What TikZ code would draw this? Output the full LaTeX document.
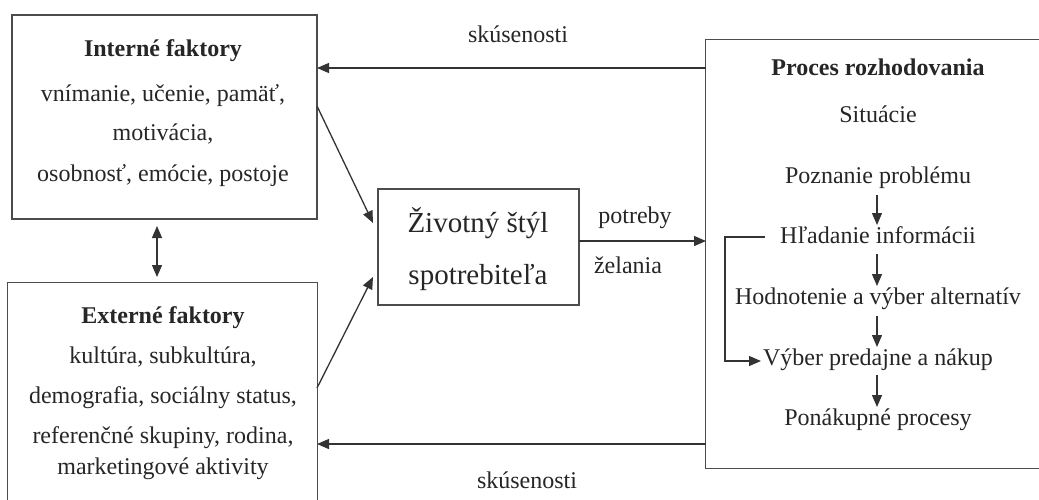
\documentclass[tikz,border=0pt]{standalone}
\usepackage{fontspec}
\setmainfont{Liberation Serif}
\usetikzlibrary{arrows.meta}
\begin{document}
\begin{tikzpicture}[x=1pt,y=-1pt,
  box/.style={draw=black!70, line width=1.3pt, rectangle, inner sep=0pt},
  openbox/.style={rectangle, inner sep=0pt},
  edge/.style={draw=black!70, line width=1.3pt},
  txt/.style={inner sep=0pt, text height=17pt, text depth=5pt, font=\fontsize{24}{28}\selectfont, text=black!85},
  btxt/.style={txt, font=\fontsize{24}{28}\selectfont\bfseries},
  big/.style={inner sep=0pt, text height=20pt, text depth=6pt, font=\fontsize{29}{34}\selectfont, text=black!85},
  con/.style={draw=black!80, line width=1.3pt},
  arr/.style={con, -{Triangle[length=12pt,width=10pt]}},
  darr/.style={con, {Triangle[length=12pt,width=10pt]}-{Triangle[length=12pt,width=10pt]}}
]
\useasboundingbox (0,0) rectangle (1039,499);
\clip (0,0) rectangle (1039,499);
\fill[white] (0,0) rectangle (1039,499);

% boxes
\node[box, minimum width=305pt, minimum height=204pt] (intf) at (164.5,117) {};
\node[openbox, minimum width=309pt, minimum height=240pt] (extf) at (162.5,403) {};
\node[box, minimum width=201pt, minimum height=116pt] (life) at (478.5,247) {};
\node[openbox, minimum width=344pt, minimum height=428pt] (proc) at (878,254) {};
\draw[edge] (extf.south west) -- (extf.north west) -- (extf.north east) -- (extf.south east);
\draw[edge] (proc.north east) -- (proc.north west) -- (proc.south west) -- (proc.south east);

% internal factors text
\node[btxt] (it) at (163,50) {Interné faktory};
\node[txt] (i1) at (163,95) {vnímanie, učenie, pamäť,};
\node[txt] (i2) at (163,134) {motivácia,};
\node[txt] (i3) at (163,175) {osobnosť, emócie, postoje};

% external factors text
\node[btxt] (et) at (163,317) {Externé faktory};
\node[txt] (e1) at (163,357) {kultúra, subkultúra,};
\node[txt] (e2) at (163,397) {demografia, sociálny status,};
\node[txt] (e3) at (163,437) {referenčné skupiny, rodina,};
\node[txt] (e4) at (163,468) {marketingové aktivity};

% life style text
\node[big] (l1) at (478,225) {Životný štýl};
\node[big] (l2) at (478,277) {spotrebiteľa};

% process text
\node[btxt] (pt) at (878,69) {Proces rozhodovania};
\node[txt] (p0) at (878,116) {Situácie};
\node[txt] (p1) at (878,177) {Poznanie problému};
\node[txt] (p2) at (878,237) {Hľadanie informácii};
\node[txt] (p3) at (878,298) {Hodnotenie a výber alternatív};
\node[txt] (p4) at (878,359) {Výber predajne a nákup};
\node[txt] (p5) at (878,419) {Ponákupné procesy};

% labels
\node[txt] (s1) at (518,36) {skúsenosti};
\node[txt] (s2) at (527,482) {skúsenosti};
\node[txt] (pot) at (635,217) {potreby};
\node[txt] (zel) at (628,267) {želania};

% coordinates
\coordinate (a1) at (317,106);
\coordinate (a1e) at (373,223);
\coordinate (a2) at (317,388);
\coordinate (a2e) at (373,277);
\coordinate (d1) at (157,226);
\coordinate (d2) at (157,277);
\coordinate (ps) at (579,241);
\coordinate (pe) at (706,241);
\coordinate (t1) at (706,68);
\coordinate (t2) at (317,68);
\coordinate (b1) at (706,444);
\coordinate (b2) at (317,444);
\coordinate (q1) at (877,195);
\coordinate (q2) at (877,225);
\coordinate (q3) at (877,254);
\coordinate (q4) at (877,286);
\coordinate (q5) at (877,316);
\coordinate (q6) at (877,347);
\coordinate (q7) at (877,375);
\coordinate (q8) at (877,407);
\coordinate (h1) at (765,237);
\coordinate (h2) at (725,237);
\coordinate (h3) at (725,361);
\coordinate (h4) at (761,361);

% connectors
\draw[arr] (a1) -- (a1e);
\draw[arr] (a2) -- (a2e);
\draw[darr] (d1) -- (d2);
\draw[arr] (ps) -- (pe);
\draw[arr] (t1) -- (t2);
\draw[arr] (b1) -- (b2);
\draw[arr] (q1) -- (q2);
\draw[arr] (q3) -- (q4);
\draw[arr] (q5) -- (q6);
\draw[arr] (q7) -- (q8);
\draw[arr] (h1) -- (h2) -- (h3) -- (h4);
\end{tikzpicture}
\end{document}
